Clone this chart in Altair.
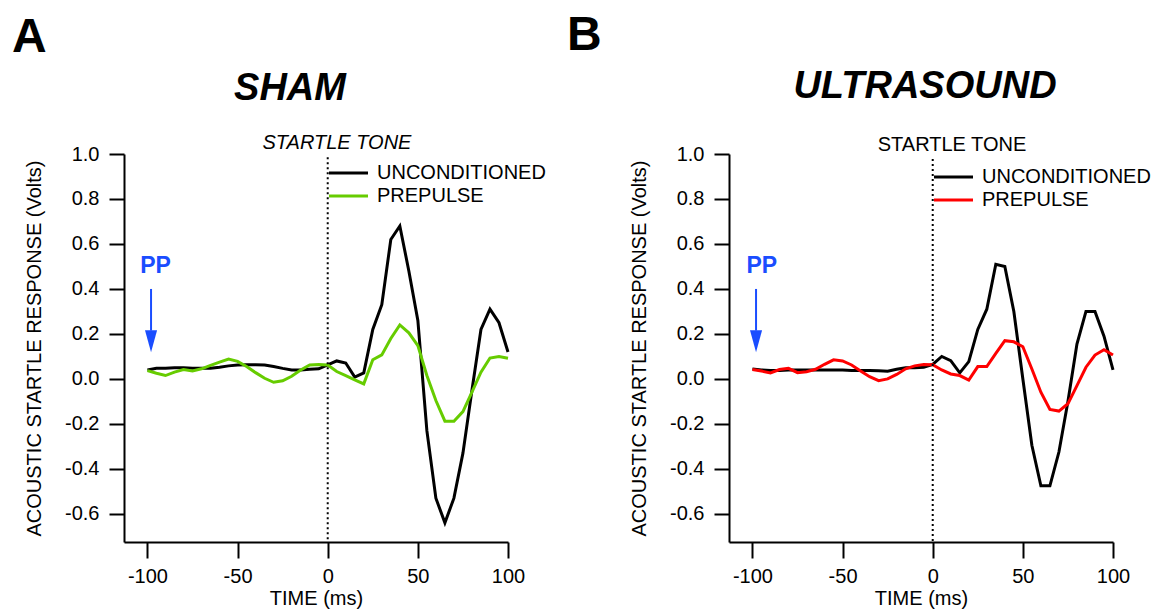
import altair as alt
import pandas as pd

# ---------------- data ----------------
time_ms = list(range(-100, 105, 5))

sham_unconditioned = [0.040, 0.047, 0.048, 0.050, 0.050, 0.047, 0.047, 0.048, 0.052, 0.058,
                      0.062, 0.063, 0.063, 0.062, 0.055, 0.047, 0.040, 0.040, 0.043, 0.045,
                      0.062, 0.080, 0.071, 0.008, 0.027, 0.220, 0.330, 0.620, 0.680, 0.480,
                      0.260, -0.230, -0.530, -0.640, -0.530, -0.330, -0.050, 0.220, 0.310, 0.250,
                      0.120]
sham_prepulse = [0.037, 0.025, 0.015, 0.030, 0.042, 0.035, 0.045, 0.060, 0.075, 0.088,
                 0.078, 0.055, 0.028, 0.003, -0.015, -0.008, 0.012, 0.040, 0.062, 0.064,
                 0.062, 0.033, 0.015, -0.004, -0.022, 0.085, 0.107, 0.180, 0.240, 0.205,
                 0.148, 0.015, -0.096, -0.188, -0.188, -0.145, -0.059, 0.030, 0.093, 0.100,
                 0.092]
us_unconditioned = [0.044, 0.040, 0.037, 0.038, 0.040, 0.040, 0.040, 0.040, 0.040, 0.040,
                    0.040, 0.038, 0.037, 0.037, 0.036, 0.034, 0.043, 0.050, 0.050, 0.052,
                    0.065, 0.100, 0.081, 0.027, 0.077, 0.220, 0.310, 0.510, 0.500, 0.300,
                    0.000, -0.295, -0.475, -0.475, -0.325, -0.100, 0.155, 0.300, 0.300, 0.190,
                    0.040]
us_prepulse = [0.042, 0.035, 0.027, 0.042, 0.047, 0.028, 0.032, 0.043, 0.065, 0.085,
               0.080, 0.062, 0.035, 0.010, -0.008, 0.000, 0.020, 0.045, 0.058, 0.064,
               0.063, 0.040, 0.022, 0.015, -0.005, 0.055, 0.055, 0.114, 0.170, 0.165,
               0.143, 0.044, -0.059, -0.136, -0.143, -0.110, -0.030, 0.052, 0.106, 0.130,
               0.106]

panel_letters = ["A", "B"]
panel_titles = ["SHAM", "ULTRASOUND"]
series_labels = ["UNCONDITIONED", "PREPULSE"]
prepulse_colors = ["#66cc00", "#ff0000"]
tone_label = "STARTLE TONE"
pp_label = "PP"
x_title = "TIME (ms)"
y_title = "ACOUSTIC STARTLE RESPONSE (Volts)"
x_ticks = [-100, -50, 0, 50, 100]
y_ticks = [-0.6, -0.4, -0.2, 0.0, 0.2, 0.4, 0.6, 0.8, 1.0]

# ---------------- styling ----------------
FONT = "Liberation Sans"
W, H = 384, 388
BLUE = "#1a4dff"
LW = 3


def panel(letter, title, unc, pre, pre_color, tone_style, lay):
    df = pd.DataFrame({"t": time_ms, "unc": unc, "pre": pre})
    xs = alt.Scale(domain=[-113, 100], nice=False, zero=False)
    ys = alt.Scale(domain=[-0.725, 1.0], nice=False, zero=False)
    xaxis = alt.Axis(values=x_ticks, title=x_title, grid=False,
                     labelExpr="(datum.value < 0 ? '-' : '') + format(abs(datum.value), 'd')",
                     domainColor="black", domainWidth=2, tickColor="black",
                     tickWidth=2, tickSize=16, labelFont=FONT, labelFontSize=20,
                     labelColor="black", labelPadding=8, labelFlush=False,
                     labelOverlap=False, titleFont=FONT, titleFontSize=20,
                     titleFontWeight="normal", titleColor="black", titlePadding=2)
    yaxis = alt.Axis(values=y_ticks, title=y_title, grid=False,
                     labelExpr="(datum.value < -0.001 ? '-' : '') + format(abs(datum.value), '.1f')",
                     domainColor="black", domainWidth=2, tickColor="black",
                     tickWidth=2, tickSize=15, labelFont=FONT, labelFontSize=20,
                     labelColor="black", labelPadding=10, labelOverlap=False,
                     labelFlush=False,
                     titleFont=FONT, titleFontSize=20, titleFontWeight="normal",
                     titleColor="black", titlePadding=20)
    X = lambda f: alt.X(f, scale=xs, axis=xaxis)
    Y = lambda f: alt.Y(f, scale=ys, axis=yaxis)

    base = alt.Chart(df)
    unc_line = base.mark_line(color="black", strokeWidth=LW).encode(x=X("t:Q"), y=Y("unc:Q"))
    pre_line = base.mark_line(color=pre_color, strokeWidth=LW).encode(x=X("t:Q"), y=Y("pre:Q"))

    tone_rule = alt.Chart(pd.DataFrame({"t": [0], "top": [lay["tone_top"]]})).mark_rule(
        color="black", strokeWidth=2, strokeDash=[2, 3]
    ).encode(x=X("t:Q"), y=Y("top:Q"), y2=alt.value(H))

    # PP arrow (data coordinates)
    pp_df = pd.DataFrame({"t": [-98.0], "v0": [0.40], "v1": [0.215], "vh": [0.168],
                          "tt": [lay["pp_t"]], "vt": [0.50], "lab": [pp_label]})
    pp_base = alt.Chart(pp_df)
    pp_shaft = pp_base.mark_rule(color=BLUE, strokeWidth=2).encode(
        x=X("t:Q"), y=Y("v0:Q"), y2="v1:Q")
    pp_head = pp_base.mark_point(shape="M-0.55,-1L0.55,-1L0,1Z", filled=True, size=484,
                                 color=BLUE, opacity=1, strokeWidth=0).encode(
        x=X("t:Q"), y=Y("vh:Q"))
    pp_text = pp_base.mark_text(font=FONT, fontSize=23, fontWeight="bold", color=BLUE,
                                align="center", baseline="middle").encode(
        x=X("tt:Q"), y=Y("vt:Q"), text="lab:N")

    # legend
    leg_y = lay["leg_y"]
    leg_df = pd.DataFrame({"lab": series_labels, "col": ["black", pre_color]})
    legend_layers = []
    for i in range(2):
        d = leg_df.iloc[[i]]
        legend_layers.append(alt.Chart(d).mark_rule(color=leg_df["col"][i], strokeWidth=LW).encode(
            x=alt.value(205), x2=alt.value(244), y=alt.value(leg_y[i])))
        legend_layers.append(alt.Chart(d).mark_text(font=FONT, fontSize=20, color="black",
                                                    align="left", baseline="middle").encode(
            x=alt.value(253), y=alt.value(leg_y[i]), text="lab:N"))

    tone_text = alt.Chart(pd.DataFrame({"lab": [tone_label]})).mark_text(
        font=FONT, fontSize=20, fontStyle=tone_style, color="black",
        align="center", baseline="alphabetic").encode(
        x=alt.value(lay["tone_x"]), y=alt.value(lay["tone_y"]), text="lab:N")

    title_text = alt.Chart(pd.DataFrame({"lab": [title]})).mark_text(
        font=FONT, fontSize=38, fontStyle="italic", fontWeight="bold", color="black",
        align="center", baseline="alphabetic").encode(
        x=alt.value(lay["title_x"]), y=alt.value(lay["title_y"]), text="lab:N")

    letter_text = alt.Chart(pd.DataFrame({"lab": [letter]})).mark_text(
        font=FONT, fontSize=48, fontWeight="bold", color="black",
        align="left", baseline="alphabetic").encode(
        x=alt.value(lay["letter_x"]), y=alt.value(lay["letter_y"]), text="lab:N")

    return alt.layer(unc_line, pre_line, tone_rule, pp_shaft, pp_head, pp_text,
                     *legend_layers, tone_text, title_text, letter_text).properties(
        width=W, height=H)


lay_a = dict(tone_top=0.985, pp_t=-95.5, leg_y=[19, 42], tone_x=213, tone_y=-5,
             title_x=166, title_y=-54, letter_x=-112, letter_y=-102)
lay_b = dict(tone_top=0.978, pp_t=-94.8, leg_y=[23, 46], tone_x=223, tone_y=-3,
             title_x=196, title_y=-56, letter_x=-162, letter_y=-104)

pa = panel(panel_letters[0], panel_titles[0], sham_unconditioned, sham_prepulse,
           prepulse_colors[0], "italic", lay_a)
pb = panel(panel_letters[1], panel_titles[1], us_unconditioned, us_prepulse,
           prepulse_colors[1], "normal", lay_b)

chart = alt.hconcat(pa, pb, spacing=221, bounds="flush").properties(
    padding={"left": 4, "top": 4, "right": 4, "bottom": 4},
    background="white",
).configure_view(stroke=None)

chart.save("out.html", embed_options={"renderer": "svg", "actions": False})
